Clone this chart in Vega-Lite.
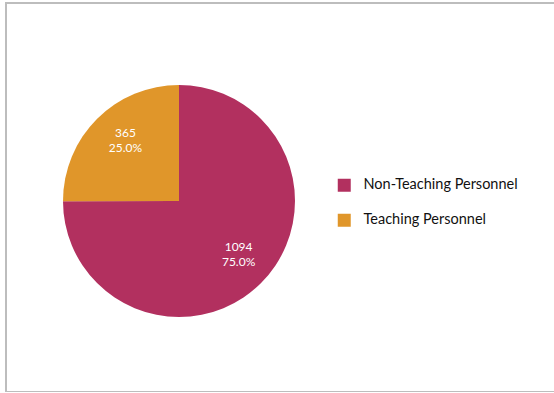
{
  "$schema": "https://vega.github.io/schema/vega-lite/v6.json",
  "autosize": {"type": "none"},
  "padding": {"left": 6, "top": 3, "right": 0, "bottom": 0},
  "width": 560,
  "height": 389,
  "background": "white",
  "view": {"stroke": "#bdbdbd", "strokeWidth": 2},
  "config": {
    "view": {"stroke": "#bdbdbd", "strokeWidth": 2},
    "font": "Lato"
  },
  "data": {
    "values": [
      {"category": "Non-Teaching Personnel", "value": 1094},
      {"category": "Teaching Personnel", "value": 365}
    ]
  },
  "transform": [
    {"joinaggregate": [{"op": "sum", "field": "value", "as": "total"}]},
    {"calculate": "datum.value / datum.total", "as": "pct"}
  ],
  "encoding": {
    "theta": {"field": "value", "type": "quantitative", "stack": true},
    "order": {"field": "category", "type": "nominal", "sort": "ascending"},
    "color": {
      "field": "category",
      "type": "nominal",
      "scale": {
        "domain": ["Non-Teaching Personnel", "Teaching Personnel"],
        "range": ["#b2305f", "#e0962a"]
      },
      "legend": {
        "title": null,
        "orient": "none",
        "legendX": 331,
        "legendY": 175,
        "padding": 0,
        "symbolType": "square",
        "symbolSize": 169,
        "symbolStrokeWidth": 0,
        "symbolOpacity": 1,
        "labelFontSize": 14.5,
        "labelFont": "Lato",
        "labelColor": "#111111",
        "labelOffset": 12,
        "rowPadding": 20
      }
    }
  },
  "layer": [
    {
      "mark": {"type": "arc", "outerRadius": 116, "x": 173, "y": 198, "stroke": null}
    },
    {
      "mark": {"type": "text", "radius": 80, "x": 173, "y": 198, "dx": 3, "dy": -11, "fontSize": 12, "font": "Lato"},
      "encoding": {"text": {"field": "value", "type": "quantitative", "format": "d"}, "color": {"value": "white"}, "detail": {"field": "category"}}
    },
    {
      "mark": {"type": "text", "radius": 80, "x": 173, "y": 198, "dx": 3, "dy": 4, "fontSize": 12, "font": "Lato"},
      "encoding": {"text": {"field": "pct", "type": "quantitative", "format": ".1%"}, "color": {"value": "white"}, "detail": {"field": "category"}}
    }
  ]
}
